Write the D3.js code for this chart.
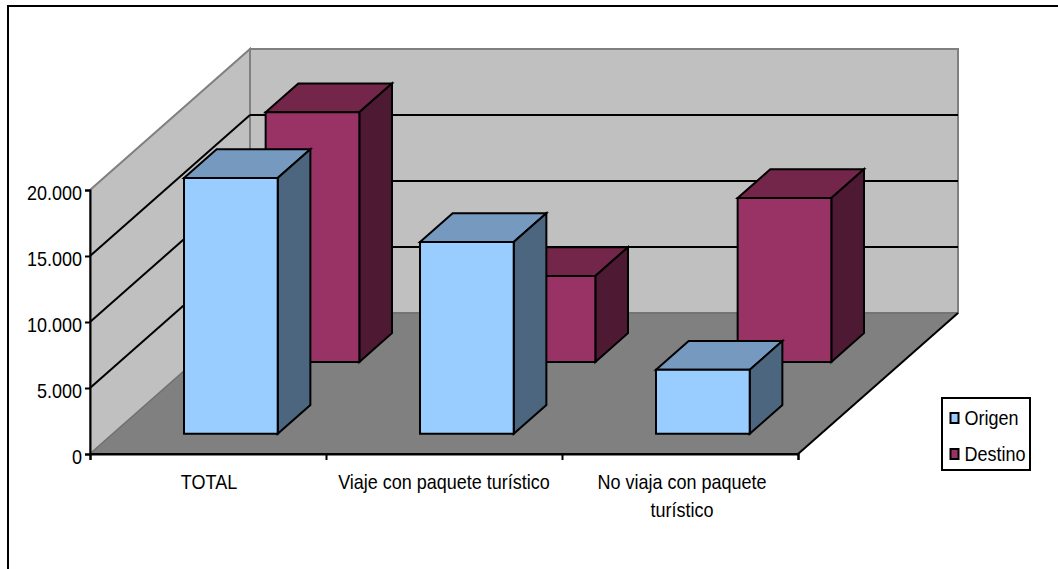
<!DOCTYPE html>
<html><head><meta charset="utf-8"><script src="https://cdn.jsdelivr.net/npm/d3@7"></script>
<style>html,body{margin:0;padding:0;background:#fff}svg{display:block}text{font-family:"Liberation Sans",Arial,sans-serif;fill:#000}</style></head>
<body><svg id="c" width="1058" height="569"></svg>
<script>
const categories=[["TOTAL"],["Viaje con paquete turístico"],["No viaja con paquete","turístico"]];
const seriesNames=["Origen","Destino"];
const origen=[19390,14540,4850];
const destino=[18920,6510,12410];
const yTicks=[0,5000,10000,15000,20000];
const frontColors=["#99ccff","#993366"];
const topColors=["#7599bf","#732649"];
const sideColors=["#4d6680","#4d1933"];

const svg=d3.select("#c");
const x=d3.scaleBand().domain(d3.range(3)).range([90,798]).paddingInner(0.603).paddingOuter(0.3015);
const y=d3.scaleLinear().domain([0,20000]).range([454,190]);
const depth=d3.scaleBand().domain(seriesNames).range([0,1]).paddingInner(0.6).paddingOuter(0.28);
const DX=160,DY=-141;
const P=(px,val,d)=>[px+DX*d,y(val)+DY*d];
const poly=(pts,fill,stroke,sw=2)=>svg.append("polygon").attr("points",pts.map(p=>p.join(",")).join(" ")).attr("fill",fill).attr("stroke",stroke).attr("stroke-width",sw).attr("stroke-linejoin","miter");
const line=(a,b,stroke,sw=2)=>svg.append("line").attr("x1",a[0]).attr("y1",a[1]).attr("x2",b[0]).attr("y2",b[1]).attr("stroke",stroke).attr("stroke-width",sw);
// the source type is tall and slightly condensed
const label=(tx,ty,t,anchor)=>svg.append("text").attr("transform",`translate(${tx},${ty}) scale(0.9,1)`).attr("text-anchor",anchor).attr("font-size",20).text(t);

// frame: open on the right and bottom, as cropped in the source
svg.append("path").attr("d","M8,569V6H1058").attr("fill","none").attr("stroke","#000").attr("stroke-width",2);

const xL=x.range()[0],xR=x.range()[1],vMax=20000;
poly([P(xL,0,0),P(xL,vMax,0),P(xL,vMax,1),P(xL,0,1)],"#c0c0c0","#808080");
poly([P(xL,0,1),P(xL,vMax,1),P(xR,vMax,1),P(xR,0,1)],"#c0c0c0","#808080");
poly([P(xL,0,0),P(xL,0,1),P(xR,0,1),P(xR,0,0)],"#808080","#696969",1);
yTicks.filter(v=>v>0&&v<vMax).forEach(v=>{line(P(xL,v,0),P(xL,v,1),"#000");line(P(xL,v,1),P(xR,v,1),"#000");});
line(P(xL,0,0),P(xR,0,0),"#000");
line(P(xR,0,0),P(xR,0,1),"#000");

// axes
const tickFmt=v=>d3.format(",")(v).replace(",",".");
const axY=d3.axisLeft(y).tickValues(yTicks).tickSize(5).tickFormat("");
const gy=svg.append("g").attr("transform",`translate(${xL},0)`).call(axY);
gy.selectAll("path,line").attr("stroke","#000").attr("stroke-width",2);
yTicks.forEach(v=>label(xL-8,y(v)+9.5,tickFmt(v),"end"));
const edge=d3.scaleLinear().domain([0,3]).range([xL,xR]);
const axX=d3.axisBottom(edge).tickValues(d3.range(4)).tickSize(6).tickFormat("");
const gx=svg.append("g").attr("transform",`translate(0,${y(0)})`).call(axX);
gx.selectAll("path,line").attr("stroke","#000").attr("stroke-width",2);

// bars, back series first
[1,0].forEach(s=>{
  const vals=s?destino:origen, name=seriesNames[s];
  const d0=depth(name), d1=d0+depth.bandwidth();
  vals.forEach((v,i)=>{
    const a=x(i), b=a+x.bandwidth();
    poly([P(a,v,d0),P(a,v,d1),P(b,v,d1),P(b,v,d0)],topColors[s],"#000");
    poly([P(b,0,d0),P(b,v,d0),P(b,v,d1),P(b,0,d1)],sideColors[s],"#000");
    poly([P(a,0,d0),P(a,v,d0),P(b,v,d0),P(b,0,d0)],frontColors[s],"#000");
  });
});

// category labels
categories.forEach((lines,i)=>{
  const cx=(edge(i)+edge(i+1))/2;
  lines.forEach((t,j)=>label(cx+(i==2?2:i==0?1:0),489+j*28,t,"middle"));
});

// legend
svg.append("rect").attr("x",942).attr("y",398).attr("width",88).attr("height",72).attr("fill","#fff").attr("stroke","#000").attr("stroke-width",2);
seriesNames.forEach((n,i)=>{
  const yy=418+i*36;
  svg.append("rect").attr("x",950.5).attr("y",yy-5).attr("width",8).attr("height",10).attr("fill",frontColors[i]).attr("stroke","#000").attr("stroke-width",2);
  label(964.5,yy+7,n,"start");
});
</script></body></html>
